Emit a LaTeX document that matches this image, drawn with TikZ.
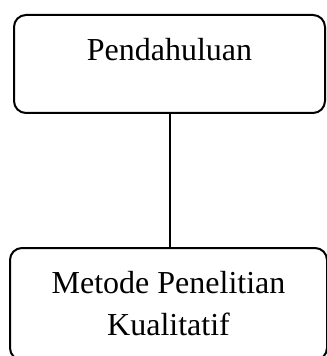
\documentclass[tikz,border=0pt]{standalone}
\usepackage{fontspec}
\setmainfont{Liberation Serif}
\usepackage{tikz}
\usetikzlibrary{positioning}
\tikzstyle{bab} = [rectangle, draw, line width=1pt, rounded corners=6pt,
    align=center, font=\fontsize{16}{21}\selectfont]
\tikzstyle{line} = [draw, line width=1pt]

\begin{document}
\begin{tikzpicture}[x=0.5pt, y=-0.5pt]
  \useasboundingbox (0,0) rectangle (326,356);
  % Place nodes
  \node [bab, minimum width=155.5pt, minimum height=49pt,
         text height=11pt, text depth=14pt] (pendahuluan) at (169.5,64) {Pendahuluan};
  \node [bab, minimum width=158.5pt, minimum height=56pt] (metode) at (168.5,304)
        {Metode Penelitian\\Kualitatif};
  % Draw edges
  \path[line] (pendahuluan.south) -- (pendahuluan.south |- metode.north);
\end{tikzpicture}
\end{document}
